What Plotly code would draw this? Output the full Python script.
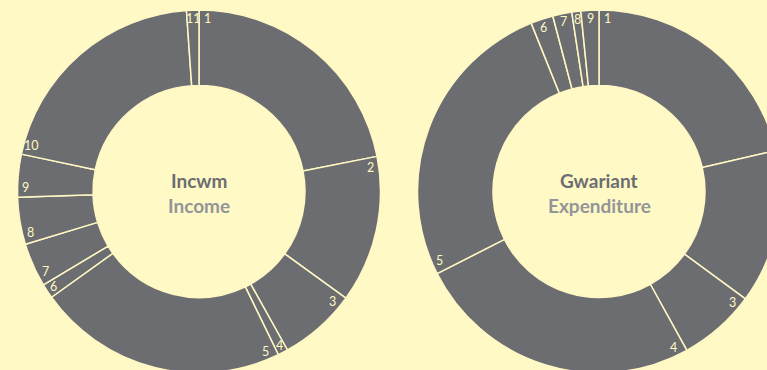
import math
import plotly.graph_objects as go

# ---- data ----
income_labels = ["1", "2", "3", "4", "5", "6", "7", "8", "9", "10", "11"]
income_values = [21.9, 13.1, 6.9, 0.9, 22.3, 1.3, 3.9, 4.2, 3.8, 20.6, 1.1]

exp_labels = ["1", "2", "3", "4", "5", "6", "7", "8", "9"]
exp_values = [21.4, 13.7, 6.9, 25.6, 26.4, 2.0, 1.7, 0.8, 1.6]

titles = [("Incwm", "Income"), ("Gwariant", "Expenditure")]

# ---- style / layout ----
BG = "#FFF9C6"
GREY = "#6C6D71"
LIGHT_GREY = "#939598"
CREAM = "#FFF8C4"

W, H = 800, 383
R = 181.5
HOLE = 0.584
centers = [(199.0, 191.5), (599.0, 191.5)]


def domain(cx, cy):
    return dict(x=[(cx - R) / W, (cx + R) / W], y=[1 - (cy + R) / H, 1 - (cy - R) / H])


fig = go.Figure()
for (labels, values), (cx, cy) in zip([(income_labels, income_values), (exp_labels, exp_values)], centers):
    fig.add_trace(go.Pie(
        labels=labels, values=values, sort=False, direction="clockwise", rotation=0,
        hole=HOLE, domain=domain(cx, cy), textinfo="none", hoverinfo="label+value",
        marker=dict(colors=[GREY] * len(values), line=dict(color=CREAM, width=1.5)),
        showlegend=False,
    ))

annotations = []
LR = 173.5
GAP = 5.0
for (labels, values), (cx, cy) in zip([(income_labels, income_values), (exp_labels, exp_values)], centers):
    total = sum(values)
    start = 0.0
    for lab, v in zip(labels, values):
        w = v / total * 360.0
        t = math.radians(start)
        hw = 3.4 * len(lab)
        hh = 4.5
        extent = hw * abs(math.cos(t)) + hh * abs(math.sin(t))
        d = GAP + extent
        delta = min(math.degrees(d / LR), w / 2)
        a = math.radians(start + delta)
        px = cx + LR * math.sin(a)
        py = cy - LR * math.cos(a)
        annotations.append(dict(x=px / W, y=1 - py / H, xref="paper", yref="paper",
                                text=lab, showarrow=False, xanchor="center", yanchor="middle",
                                font=dict(family="Lato", size=12.5, color=CREAM)))
        start += w

for (t1, t2), (cx, cy) in zip(titles, centers):
    annotations.append(dict(x=cx / W, y=1 - 180 / H, xref="paper", yref="paper", text=f"<b>{t1}</b>",
                            showarrow=False, xanchor="center", yanchor="middle",
                            font=dict(family="Lato", size=19, color=GREY)))
    annotations.append(dict(x=cx / W, y=1 - 205 / H, xref="paper", yref="paper", text=f"<b>{t2}</b>",
                            showarrow=False, xanchor="center", yanchor="middle",
                            font=dict(family="Lato", size=19, color=LIGHT_GREY)))

fig.update_layout(
    width=W, height=H, margin=dict(l=0, r=0, t=0, b=0),
    paper_bgcolor=BG, plot_bgcolor=BG, annotations=annotations,
)

fig.write_html(
    "out.html",
    config={"displayModeBar": False},
    post_script="document.body.style.margin='0';document.body.style.overflow='hidden';"
                "document.documentElement.style.overflow='hidden';document.body.style.background='" + BG + "';",
)
